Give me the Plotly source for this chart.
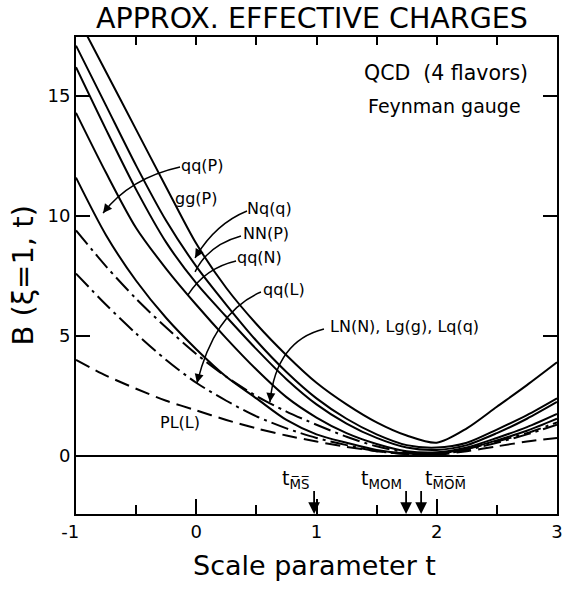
import plotly.graph_objects as go

# ---------------- data ----------------
t = [-1, -0.75, -0.5, -0.25, 0, 0.25, 0.5, 0.75, 1, 1.25, 1.5, 1.75, 2, 2.25, 2.5, 2.75, 3]

gg_P = [18.4, 16.0, 13.6, 11.2, 8.85, 7.0, 5.5, 4.2, 3.05, 2.15, 1.4, 0.85, 0.55, 1.15, 2.05, 2.95, 3.9]
Nq_q = [17.1, 14.6, 12.1, 9.8, 7.9, 6.3, 4.8, 3.5, 2.4, 1.55, 0.9, 0.45, 0.35, 0.55, 1.1, 1.7, 2.4]
NN_P = [16.2, 13.6, 11.1, 8.9, 7.2, 5.8, 4.45, 3.2, 2.15, 1.35, 0.75, 0.35, 0.25, 0.45, 0.95, 1.55, 2.25]
qq_N = [14.3, 11.8, 9.5, 7.8, 6.3, 4.9, 3.6, 2.45, 1.6, 0.95, 0.5, 0.2, 0.15, 0.35, 0.75, 1.2, 1.75]
qq_P = [11.6, 9.2, 7.3, 5.75, 4.45, 3.3, 2.4, 1.5, 0.9, 0.55, 0.25, 0.1, 0.1, 0.3, 0.65, 1.05, 1.55]
LN_N = [9.4, 7.9, 6.55, 5.35, 4.25, 3.3, 2.5, 1.85, 1.3, 0.8, 0.4, 0.15, 0.1, 0.3, 0.6, 0.95, 1.4]
qq_L = [7.6, 6.3, 5.1, 4.0, 3.05, 2.3, 1.65, 1.15, 0.75, 0.45, 0.2, 0.08, 0.07, 0.25, 0.55, 0.9, 1.3]
PL_L = [4.0, 3.35, 2.8, 2.3, 1.9, 1.5, 1.15, 0.85, 0.6, 0.38, 0.2, 0.08, 0.05, 0.2, 0.4, 0.6, 0.75]

series = [
    ("gg(P)", gg_P, "solid"),
    ("Nq(q)", Nq_q, "solid"),
    ("NN(P)", NN_P, "solid"),
    ("qq(N)", qq_N, "solid"),
    ("qq(P)", qq_P, "solid"),
    ("LN(N), Lg(g), Lq(q)", LN_N, "18px,5px,3px,5px"),
    ("qq(L)", qq_L, "18px,5px,3px,5px"),
    ("PL(L)", PL_L, "15px,7px"),
]

x_tick_vals = [-1, 0, 1, 2, 3]
x_tick_text = ["-1\u2007", "0", "1", "2", "3"]
y_tick_vals = [0, 5, 10, 15]
y_tick_text = ["0", "5", "10", "15"]

scale_pos = [0.98, 1.745, 1.87]
scale_txt = ["t<sub>M\u0305S\u0305</sub>", "t<sub>MOM</sub>", "t<sub>M\u0305O\u0305M\u0305</sub>"]
scale_side = ["right", "right", "left"]

FONT = "DejaVu Sans"

fig = go.Figure()
for name, vals, dash in series:
    fig.add_trace(go.Scatter(x=t, y=vals, mode="lines", name=name,
                             line=dict(color="black", width=2, dash=dash, shape="spline", smoothing=0.8),
                             showlegend=False, hoverinfo="skip"))
# dummy trace for top axis ticks
fig.add_trace(go.Scatter(x=[-1], y=[-10], xaxis="x2", mode="markers",
                         marker=dict(opacity=0), showlegend=False, hoverinfo="skip"))

fig.update_layout(
    template="none",
    width=563, height=591,
    margin=dict(l=76, r=6, t=37, b=77, autoexpand=False),
    paper_bgcolor="white", plot_bgcolor="white",
    font=dict(family=FONT, color="black"),
    xaxis=dict(range=[-1, 3], tickvals=x_tick_vals, ticktext=x_tick_text, automargin=False,
               ticks="inside", ticklen=15, tickwidth=2, tickcolor="black",
               showline=True, linewidth=2, linecolor="black", mirror=True,
               showgrid=False, zeroline=False, tickfont=dict(size=18, family=FONT),
               ticklabeloverflow="allow",
               minor=dict(tickvals=[-0.5, 0.5, 1.5, 2.5], ticks="inside", ticklen=9,
                          tickwidth=1.5, tickcolor="black", showgrid=False)),
    xaxis2=dict(range=[-1, 3], overlaying="x", side="top", automargin=False,
                tickvals=[-0.5, 0, 0.5, 1, 1.5, 2, 2.5], ticks="inside", ticklen=8,
                tickwidth=1.5, tickcolor="black", showticklabels=False,
                showline=False, showgrid=False, zeroline=False),
    yaxis=dict(range=[-2.42, 17.46], tickvals=y_tick_vals, ticktext=y_tick_text, automargin=False,
               ticks="inside", ticklen=14, tickwidth=2, tickcolor="black",
               showline=True, linewidth=2, linecolor="black", mirror="ticks",
               showgrid=False, zeroline=True, zerolinecolor="black", zerolinewidth=1.5,
               tickfont=dict(size=18, family=FONT)),
)

ann = []
# title & axis titles
ann.append(dict(text="APPROX. EFFECTIVE CHARGES", xref="paper", yref="paper", x=0.49, y=1.0,
                yshift=19, xanchor="center", yanchor="middle", showarrow=False,
                font=dict(size=28.5, family=FONT)))
ann.append(dict(text="Scale parameter t", xref="paper", yref="paper", x=0.495, y=0,
                yshift=-51, xanchor="center", yanchor="middle", showarrow=False,
                font=dict(size=27, family=FONT)))
ann.append(dict(text="B (\u03be=1, t)", xref="paper", yref="paper", x=0, y=0.5, xshift=-54,
                textangle=-90, xanchor="center", yanchor="middle", showarrow=False,
                font=dict(size=29, family=FONT)))
ann.append(dict(text="QCD\u00a0 (4 flavors)", x=2.073, y=15.95, showarrow=False,
                font=dict(size=20.5, family=FONT)))
ann.append(dict(text="Feynman gauge", x=2.064, y=14.6, showarrow=False,
                font=dict(size=19, family=FONT)))

# curve labels: (text, label x, label y, path start, control, tip)
labels = [
    ("qq(P)", 0.048, 12.12, (-0.135, 12.04), (-0.551, 11.58), (-0.775, 10.12)),
    ("gg(P)", -0.002, 10.75, None, None, None),
    ("Nq(q)", 0.613, 10.33, (0.422, 10.21), (0.156, 9.67), (-0.01, 8.25)),
    ("NN(P)", 0.58, 9.29, (0.372, 9.17), (0.098, 8.79), (-0.01, 7.67)),
    ("qq(N)", 0.522, 8.25, (0.331, 8.125), (0.073, 7.83), (-0.069, 6.71)),
    ("qq(L)", 0.73, 6.92, (0.538, 6.83), (0.156, 6.04), (0.006, 3.04)),
    ("LN(N), Lg(g), Lq(q)", 1.728, 5.375, (1.062, 5.29), (0.663, 4.79), (0.613, 2.25)),
    ("PL(L)", -0.135, 1.375, None, None, None),
]
shapes = []
for text, lx, ly, p0, pc, p1 in labels:
    ann.append(dict(text=text, x=lx, y=ly, showarrow=False, font=dict(size=16, family=FONT)))
    if p0 is not None:
        shapes.append(dict(type="path", xref="x", yref="y",
                           path=f"M {p0[0]},{p0[1]} Q {pc[0]},{pc[1]} {p1[0]},{p1[1]}",
                           line=dict(color="black", width=1.5)))
        tx = p1[0] + 0.12 * (pc[0] - p1[0])
        ty = p1[1] + 0.12 * (pc[1] - p1[1])
        ann.append(dict(text="", x=p1[0], y=p1[1], ax=tx, ay=ty, axref="x", ayref="y",
                        showarrow=True, arrowhead=2, arrowsize=1.2, arrowwidth=1.5,
                        arrowcolor="black", standoff=0))

# scale markers
for pos, txt, side in zip(scale_pos, scale_txt, scale_side):
    ann.append(dict(text="", x=pos, y=-2.42, ax=pos, ay=-1.4, axref="x", ayref="y",
                    showarrow=True, arrowhead=2, arrowsize=1.3, arrowwidth=1.8,
                    arrowcolor="black", standoff=0))
    ann.append(dict(text=txt, x=pos, y=-1.0, xanchor=side, yanchor="middle",
                    xshift=-2 if side == "right" else 2,
                    showarrow=False, font=dict(size=19, family=FONT)))

fig.update_layout(annotations=ann, shapes=shapes)
fig.write_html("out.html", config={"displayModeBar": False},
               post_script="document.body.style.margin='0';document.body.style.overflow='hidden';")
